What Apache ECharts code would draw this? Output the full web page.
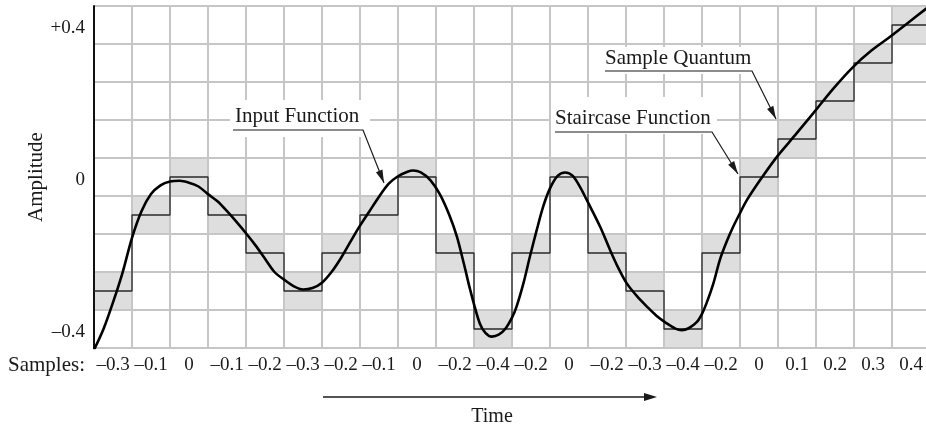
<!DOCTYPE html>
<html>
<head>
<meta charset="utf-8">
<script src="https://cdn.jsdelivr.net/npm/echarts@6/dist/echarts.min.js"></script>
<style>
  html, body { margin: 0; padding: 0; background: #fff; }
  #chart { width: 926px; height: 430px; }
</style>
</head>
<body>
<div id="chart"></div>
<script>
// quantised level of each sample, one per column
const samples = [-0.3, -0.1, 0, -0.1, -0.2, -0.3, -0.2, -0.1, 0, -0.2, -0.4, -0.2,
  0, -0.2, -0.3, -0.4, -0.2, 0, 0.1, 0.2, 0.3, 0.4];

// input function (x in sample columns, y in amplitude)
const curveX = [0, 0.25, 0.5, 0.75, 1, 1.25, 1.5, 1.75, 2, 2.25, 2.5, 2.75, 3, 3.25,
  3.5, 3.75, 4, 4.25, 4.5, 4.75, 5, 5.25, 5.5, 5.75, 6, 6.25, 6.5, 6.75, 7, 7.25, 7.5,
  7.75, 8, 8.25, 8.4, 8.6, 8.85, 9.1, 9.35, 9.55, 9.75, 9.9, 10.15, 10.3, 10.47, 10.65,
  10.82, 11, 11.12, 11.3, 11.47, 11.65, 11.82, 12, 12.2, 12.4, 12.6, 12.8, 12.97, 13.32,
  13.58, 13.8, 14.02, 14.3, 14.55, 14.8, 15.07, 15.3, 15.47, 15.65, 15.86, 16, 16.12,
  16.3, 16.47, 16.65, 16.82, 17, 17.18, 17.53, 17.97, 18.45, 18.93, 19.45, 19.98,
  20.45, 20.95, 21.45, 21.91];
const curveY = [-0.455, -0.4, -0.33, -0.252, -0.16, -0.09, -0.045, -0.022, -0.012,
  -0.01, -0.015, -0.025, -0.045, -0.064, -0.09, -0.118, -0.148, -0.18, -0.215, -0.25,
  -0.27, -0.287, -0.296, -0.292, -0.278, -0.25, -0.213, -0.17, -0.128, -0.09, -0.052,
  -0.018, 0.002, 0.014, 0.017, 0.012, -0.008, -0.045, -0.1, -0.157, -0.235, -0.297,
  -0.385, -0.41, -0.42, -0.415, -0.4, -0.37, -0.341, -0.28, -0.21, -0.14, -0.078, -0.03,
  0.003, 0.012, 0.003, -0.028, -0.061, -0.131, -0.192, -0.24, -0.28, -0.315, -0.341,
  -0.365, -0.385, -0.399, -0.403, -0.398, -0.382, -0.36, -0.332, -0.28, -0.218, -0.17,
  -0.131, -0.095, -0.061, -0.008, 0.053, 0.11, 0.168, 0.232, 0.29, 0.332, 0.369,
  0.408, 0.444];

const yTickValues = [-0.4, 0, 0.4];
const yTickLabels = ['\u20130.4', '0', '+0.4'];
const sampleLabels = samples.map(v => (v < 0 ? '\u2013' + (-v) : String(v)));

const quantum = 0.1;
const font = 'Liberation Serif';
const ink = '#1a1a1a';
const gridGray = '#c6c6c6';

const chart = echarts.init(document.getElementById('chart'));

// staircase: hold each sample level across its column
const stairs = samples.map((v, i) => [i, v]);
stairs.push([samples.length, samples[samples.length - 1]]);

function arrowHead(tip, from, len, half) {
  const dx = tip[0] - from[0], dy = tip[1] - from[1];
  const d = Math.hypot(dx, dy);
  const ux = dx / d, uy = dy / d;
  const bx = tip[0] - ux * len, by = tip[1] - uy * len;
  return [tip, [bx - uy * half, by + ux * half], [bx + uy * half, by - ux * half]];
}

// callouts: white patch, label, underline + leader with arrow
const notes = [
  { text: 'Input Function', box: [230, 100, 140, 37], at: [235, 116],
    path: [[233, 130], [363, 130], [384, 183]] },
  { text: 'Sample Quantum', box: [600, 47, 156, 27], at: [605, 58],
    path: [[605, 71], [752, 71], [776, 119]] },
  { text: 'Staircase Function', box: [551, 97, 166, 37], at: [555, 118],
    path: [[555, 132], [712, 132], [738, 174]] }
];

const graphics = [];
notes.forEach(n => {
  graphics.push({
    type: 'rect', z: 1,
    shape: { x: n.box[0], y: n.box[1], width: n.box[2], height: n.box[3] },
    style: { fill: '#fff' }
  });
  graphics.push({
    type: 'text', z: 10, x: n.at[0], y: n.at[1],
    style: { text: n.text, font: '21px "' + font + '"', fill: ink, textVerticalAlign: 'middle' }
  });
  graphics.push({
    type: 'polyline', z: 10,
    shape: { points: n.path },
    style: { stroke: ink, lineWidth: 1.2, fill: null }
  });
  const p = n.path;
  graphics.push({
    type: 'polygon', z: 10,
    shape: { points: arrowHead(p[p.length - 1], p[p.length - 2], 13, 3.5) },
    style: { fill: ink }
  });
});

// time arrow and axis texts
graphics.push(
  { type: 'line', shape: { x1: 323, y1: 397, x2: 646, y2: 397 }, style: { stroke: ink, lineWidth: 1.5 } },
  { type: 'polygon', shape: { points: arrowHead([657, 397], [323, 397], 13, 4) }, style: { fill: ink } },
  { type: 'text', x: 492, y: 417,
    style: { text: 'Time', font: '20px "' + font + '"', fill: ink, textAlign: 'center', textVerticalAlign: 'middle' } },
  { type: 'text', x: 85, y: 365,
    style: { text: 'Samples:', font: '21px "' + font + '"', fill: ink, textAlign: 'right', textVerticalAlign: 'middle' } },
  { type: 'text', x: 36, y: 177, rotation: Math.PI / 2,
    style: { text: 'Amplitude', font: '21px "' + font + '"', fill: ink, textAlign: 'center', textVerticalAlign: 'middle' } }
);

const option = {
  animation: false,
  backgroundColor: '#fff',
  grid: { left: 94, top: 6, width: 836, height: 342, outerBoundsMode: 'none' },
  xAxis: {
    type: 'value',
    min: 0,
    max: samples.length,
    interval: 0.5,
    axisLine: { show: false },
    axisTick: { show: false },
    splitLine: { lineStyle: { color: [gridGray, 'transparent'], width: 2 } },
    axisLabel: {
      margin: 8,
      fontFamily: font,
      fontSize: 19,
      color: ink,
      formatter: function (value) {
        const i = value - 0.5;
        if (i >= 0 && i % 1 === 0 && i < sampleLabels.length) return sampleLabels[i];
        return '';
      }
    }
  },
  yAxis: {
    type: 'value',
    min: -0.45,
    max: 0.45,
    interval: 0.05,
    axisLine: { show: true, lineStyle: { color: '#111', width: 2 } },
    axisTick: { show: false },
    splitLine: { lineStyle: { color: [gridGray, 'transparent'], width: 2 } },
    axisLabel: {
      margin: 9,
      fontFamily: font,
      fontSize: 19,
      color: ink,
      rich: {
        v: { fontFamily: font, fontSize: 19, color: ink, padding: [7, 0, 0, 0] }
      },
      formatter: function (value) {
        for (let k = 0; k < yTickValues.length; k++) {
          if (Math.abs(value - yTickValues[k]) < 1e-9) return '{v|' + yTickLabels[k] + '}';
        }
        return '';
      }
    }
  },
  series: [
    {
      // sample quantum cells
      type: 'custom',
      z: -1,
      data: samples.map((v, i) => [i, v]),
      renderItem: function (params, api) {
        const i = api.value(0), v = api.value(1);
        const p0 = api.coord([i, v + quantum / 2]);
        const p1 = api.coord([i + 1, v - quantum / 2]);
        return {
          type: 'rect',
          shape: { x: p0[0], y: p0[1], width: p1[0] - p0[0], height: p1[1] - p0[1] },
          style: { fill: '#dedede' }
        };
      },
      silent: true
    },
    {
      type: 'line',
      step: 'end',
      data: stairs,
      showSymbol: false,
      lineStyle: { color: '#2a2a2a', width: 1.3 },
      silent: true
    },
    {
      type: 'line',
      data: curveX.map((x, i) => [x, curveY[i]]),
      smooth: 0.3,
      showSymbol: false,
      lineStyle: { color: '#000', width: 2.6 },
      silent: true
    }
  ],
  graphic: graphics
};

chart.setOption(option);
</script>
</body>
</html>
